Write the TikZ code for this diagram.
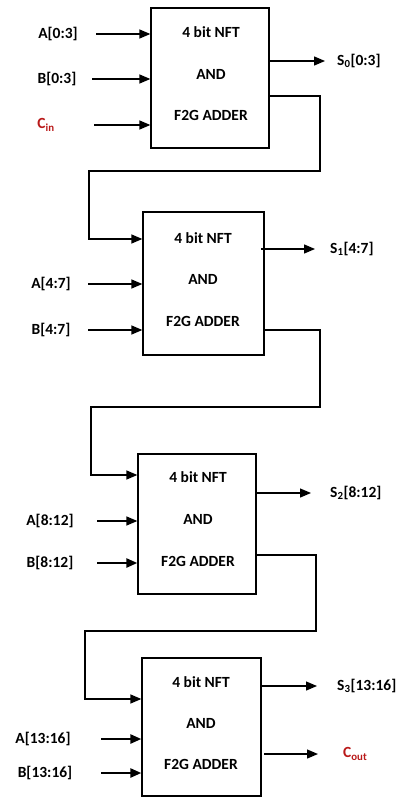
\documentclass[tikz,border=0pt]{standalone}
\usepackage{fontspec}
\setmainfont{Carlito}
\usetikzlibrary{arrows.meta}
\definecolor{cred}{RGB}{185,25,25}
\begin{document}
\begin{tikzpicture}[x=1pt,y=-1pt,
  blk/.style={draw, line width=1.3pt, inner sep=0pt},
  txt/.style={font=\bfseries\fontsize{15.5}{18}\selectfont, inner sep=0pt},
  lbl/.style={font=\bfseries\fontsize{15.5}{18}\selectfont, inner sep=0pt},
  ar/.style={line width=1.3pt, -{Triangle[length=11pt,width=9pt]}},
  arth/.style={line width=2.4pt, -{Triangle[length=11pt,width=9pt]}},
  wire/.style={line width=1.3pt},
  wireth/.style={line width=2.4pt}]
\useasboundingbox (0,0) rectangle (404,798);

% blocks
\node[blk, minimum width=118pt, minimum height=140pt] (b1) at (210,78) {};
\node[blk, minimum width=121pt, minimum height=143pt] (b2) at (203.5,283.5) {};
\node[blk, minimum width=118pt, minimum height=140pt] (b3) at (197,524) {};
\node[blk, minimum width=119pt, minimum height=138pt] (b4) at (201.5,727) {};

% block texts
\node[txt] (t1a) at (211,32) {4 bit NFT};
\node[txt] (t1b) at (211,74) {AND};
\node[txt] (t1c) at (211,115) {F2G ADDER};
\node[txt] (t2a) at (203,238) {4 bit NFT};
\node[txt] (t2b) at (203,279) {AND};
\node[txt] (t2c) at (203,321) {F2G ADDER};
\node[txt] (t3a) at (198,477) {4 bit NFT};
\node[txt] (t3b) at (198,519) {AND};
\node[txt] (t3c) at (198,561) {F2G ADDER};
\node[txt] (t4a) at (201,682) {4 bit NFT};
\node[txt] (t4b) at (201,723) {AND};
\node[txt] (t4c) at (201,764) {F2G ADDER};

% input labels
\node[lbl] (a1) at (58,34) {A[0:3]};
\node[lbl] (bb1) at (57,79) {B[0:3]};
\node[lbl, text=cred] (cin) at (46,125) {C\textsubscript{in}};
\node[lbl] (a2) at (51,284) {A[4:7]};
\node[lbl] (bb2) at (51,330) {B[4:7]};
\node[lbl] (a3) at (50,521) {A[8:12]};
\node[lbl] (bb3) at (50,563) {B[8:12]};
\node[lbl] (a4) at (43,739) {A[13:16]};
\node[lbl] (bb4) at (45,773) {B[13:16]};

% output labels
\node[lbl, anchor=west] (s0) at (337,61) {S\textsubscript{0}[0:3]};
\node[lbl, anchor=west] (s1) at (330,249) {S\textsubscript{1}[4:7]};
\node[lbl, anchor=west] (s2) at (330,493) {S\textsubscript{2}[8:12]};
\node[lbl, anchor=west] (s3) at (337,686) {S\textsubscript{3}[13:16]};
\node[lbl, anchor=west, text=cred] (cout) at (343,754) {C\textsubscript{out}};

% input arrows
\draw[ar] (96,34) -- (b1.west |- a1);
\draw[ar] (92,79) -- (b1.west |- bb1);
\draw[ar] (94,125) -- (b1.west |- cin);
\draw[ar] (88,284) -- (b2.west |- a2);
\draw[ar] (88,330) -- (b2.west |- bb2);
\draw[ar] (97,521) -- (b3.west |- a3);
\draw[arth] (97,563) -- (b3.west |- bb3);
\draw[arth] (101,739) -- (b4.west |- a4);
\draw[arth] (101,773) -- (b4.west |- bb4);

% output arrows
\draw[ar] (b1.east |- s0) -- (325,61);
\draw[ar] (261,249) -- (315,249);
\draw[ar] (b3.east |- s2) -- (311,493);
\draw[ar] (b4.east |- s3) -- (317,686);
\draw[ar] (264,754) -- (318,754);

% carry chain
\draw[ar] (b1.east |- 0,96) -- (320,96) -- (320,171) -- (89,171) -- (89,239) -- (b2.west |- 0,239);
\draw[ar] (b2.east |- 0,330) -- (320,330) -- (320,407) -- (91,407) -- (91,475) -- (b3.west |- 0,475);
\draw[wireth] (b3.east |- 0,555) -- (317,555);
\draw[ar] (316,554) -- (316,631) -- (85,631) -- (85,699) -- (b4.west |- 0,699);
\end{tikzpicture}
\end{document}
